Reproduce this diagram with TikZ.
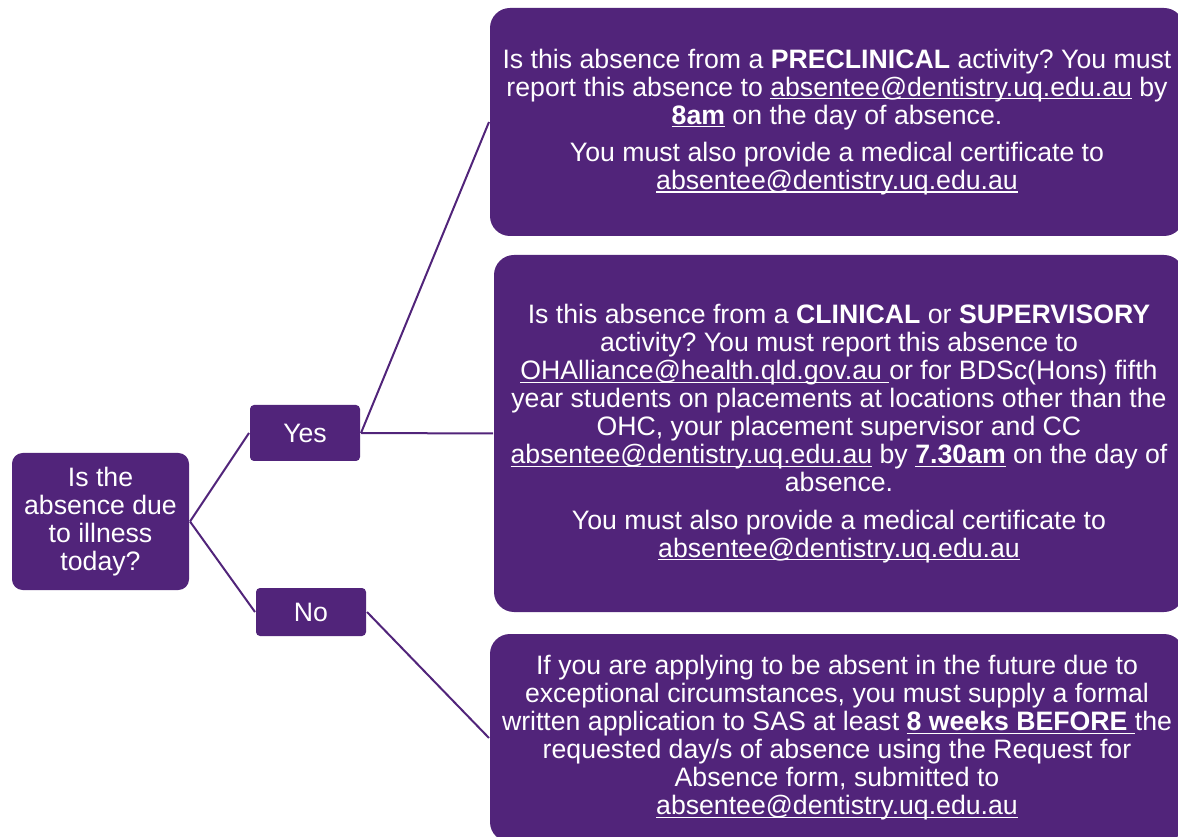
\documentclass[tikz,border=0pt]{standalone}
\usepackage{fontspec}
\setmainfont{Liberation Sans}
\usetikzlibrary{positioning}
\definecolor{uqpurple}{HTML}{51247A}
\newcommand\undl[1]{\setbox0\hbox{#1}\rlap{\rule[-2.4pt]{\wd0}{1pt}}\box0\relax}
\frenchspacing

\begin{document}
\begin{tikzpicture}[x=0.75pt,y=-0.75pt,line width=1.5pt,draw=uqpurple]
  \tikzstyle{box}=[fill=uqpurple,text=white,align=center,inner sep=1pt,
                   font=\fontsize{20}{21}\selectfont]
  \tikzstyle{big}=[box,rounded corners=15pt,minimum width=520.5pt]
  \tikzstyle{small}=[box,rounded corners=3pt,minimum width=82.5pt]

  \useasboundingbox (0,0) rectangle (1178,837);
  \clip (0,0) rectangle (1178,837);

  \node[box,rounded corners=8pt,minimum width=132.75pt,minimum height=102.75pt]
       (Q) at (100.5,521.5) {Is the\\absence due\\to illness\\today?};
  \node[small,minimum height=42pt] (Y) at (305,433) {Yes};
  \node[small,minimum height=36pt] (N) at (311,612) {No};

  \node[big,minimum height=171pt] (P) at (837,122)
    {Is this absence from a \textbf{PRECLINICAL} activity? You must\\
     report this absence to \undl{absentee@dentistry.uq.edu.au} by\\
     \textbf{\undl{8am}} on the day of absence.\\[7pt]
     You must also provide a medical certificate to\\
     \undl{absentee@dentistry.uq.edu.au}};
  \node[big,minimum width=517.5pt,minimum height=267.75pt] (C) at (839,433.5)
    {Is this absence from a \textbf{CLINICAL} or \textbf{SUPERVISORY}\\
     activity? You must report this absence to\\
     \undl{OHAlliance@health.qld.gov.au\ }or for BDSc(Hons) fifth\\
     year students on placements at locations other than the\\
     OHC, your placement supervisor and CC\\
     \undl{absentee@dentistry.uq.edu.au} by \textbf{\undl{7.30am}} on the day of\\
     absence.\\[7pt]
     You must also provide a medical certificate to\\
     \undl{absentee@dentistry.uq.edu.au}};
  \node[big,minimum height=156pt] (F) at (837,738)
    {If you are applying to be absent in the future due to\\
     exceptional circumstances, you must supply a formal\\
     written application to SAS at least \textbf{\undl{8 weeks BEFORE\ }}the\\
     requested day/s of absence using the Request for\\
     Absence form, submitted to\\
     \undl{absentee@dentistry.uq.edu.au}};

  \draw (Q.east) -- (Y.west);
  \draw (Q.east) -- (N.west);
  \draw (Y.east) -- (P.west);
  \draw (Y.east) -- (C.west);
  \draw (N.east) -- (F.west);
\end{tikzpicture}
\end{document}
